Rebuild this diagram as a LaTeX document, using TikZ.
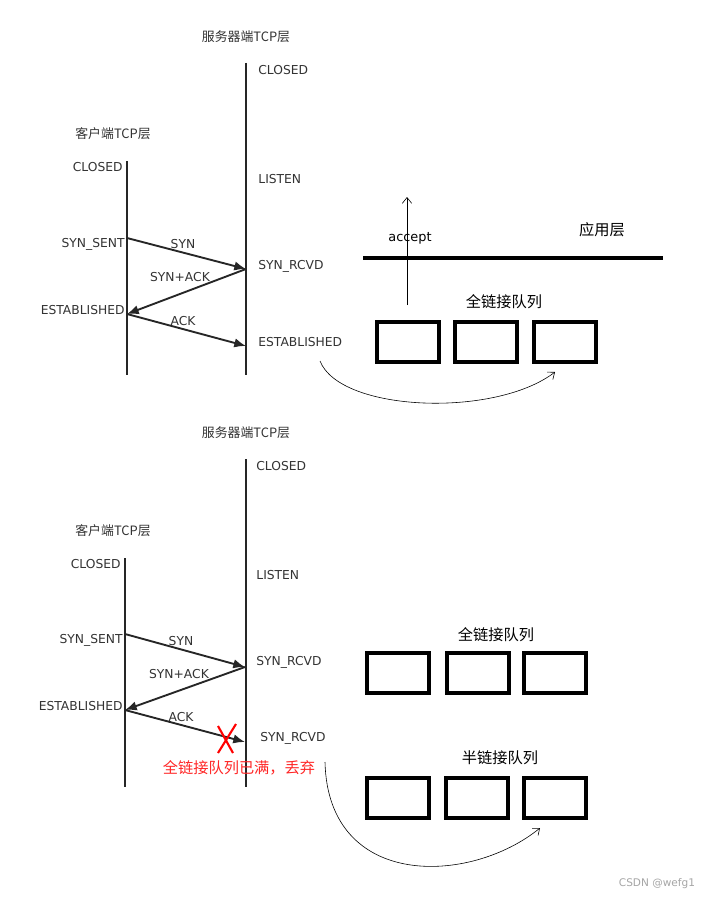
\documentclass[tikz,border=0pt]{standalone}
\usepackage{fontspec}
\setmainfont{DejaVu Sans}
\newfontfamily\cjk{Noto Sans CJK SC}
\usetikzlibrary{arrows.meta}

\tikzset{
  lifeline/.style={line width=2.1pt, draw=black!85},
  msg/.style={line width=1.6pt, draw=black!85, -{Latex[length=10pt,width=8pt]}},
  thinarrow/.style={line width=0.5pt, -{Straight Barb[length=5pt,width=8pt]}},
  state/.style={font=\fontsize{10.5}{12}\selectfont, text=black!80, inner sep=1pt},
  msglabel/.style={font=\fontsize{10.5}{12}\selectfont, text=black!80, inner sep=1pt},
  layer/.style={font=\cjk\fontsize{11}{13}\selectfont, text=black!80, inner sep=1pt},
  qtitle/.style={font=\cjk\fontsize{13}{15}\selectfont, inner sep=1pt},
  qbox/.style={draw, line width=3.2pt, minimum width=1.86cm, minimum height=1.2cm, inner sep=0pt},
}

\begin{document}
\begin{tikzpicture}[x=0.03cm, y=-0.03cm]
  \useasboundingbox[fill=white] (0,0) rectangle (708,897);

  % ---- upper picture: accept takes from the full queue ----
  \node[layer] (srvA) at (246,37) {服务器端TCP层};
  \node[layer] (cliA) at (113,134) {客户端TCP层};

  \coordinate (srvAtop) at (246,63);
  \coordinate (srvAbot) at (246,375);
  \coordinate (cliAtop) at (127,161);
  \coordinate (cliAbot) at (127,375);
  \draw[lifeline] (srvAtop) -- (srvAbot);
  \draw[lifeline] (cliAtop) -- (cliAbot);

  \node[state, anchor=west] (sClosedA) at (257,70) {CLOSED};
  \node[state, anchor=west] (sListenA) at (257,179) {LISTEN};
  \node[state, anchor=west] (sRcvdA) at (257,266) {SYN\_RCVD};
  \node[state, anchor=west] (sEstA) at (257,342) {ESTABLISHED};
  \node[state, anchor=east] (cClosedA) at (124,167) {CLOSED};
  \node[state, anchor=east] (cSentA) at (126,244) {SYN\_SENT};
  \node[state, anchor=east] (cEstA) at (126,310) {ESTABLISHED};

  \coordinate (synA0) at (127,238);
  \coordinate (synA1) at (246,269);
  \coordinate (ackA0) at (127,314);
  \coordinate (ackA1) at (246,346);
  \draw[msg] (synA0) -- (synA1);
  \draw[msg] (synA1) -- (ackA0);
  \draw[msg] (ackA0) -- (ackA1);
  \node[msglabel] (synLblA) at (183,244) {SYN};
  \node[msglabel] (synackLblA) at (180,277) {SYN+ACK};
  \node[msglabel] (ackLblA) at (183,321) {ACK};

  % application layer
  \coordinate (appL) at (363,258);
  \coordinate (appR) at (663,258);
  \draw[line width=3.4pt] (appL) -- (appR);
  \node[qtitle] (app) at (602,230) {应用层};
  \node[font=\fontsize{11}{13}\selectfont, inner sep=1pt] (accept) at (410,238) {accept};
  \coordinate (accFrom) at (407,305);
  \coordinate (accTo) at (407,197);
  \draw[thinarrow] (accFrom) -- (accTo);

  % full connection queue
  \node[qtitle] (fullA) at (504,302) {全链接队列};
  \node[qbox] (fa1) at (408,342) {};
  \node[qbox] (fa2) at (486,342) {};
  \node[qbox] (fa3) at (565,342) {};
  \coordinate (curveA0) at (320,361);
  \coordinate (curveA1) at (555,372);
  \draw[thinarrow] (curveA0) .. controls (340,412) and (495,418) .. (curveA1);

  % ---- lower picture: full queue is full, ACK dropped ----
  \node[layer] (srvB) at (246,433) {服务器端TCP层};
  \node[layer] (cliB) at (113,531) {客户端TCP层};

  \coordinate (srvBtop) at (246,459);
  \coordinate (srvBbot) at (246,787);
  \coordinate (cliBtop) at (125,558);
  \coordinate (cliBbot) at (125,787);
  \draw[lifeline] (srvBtop) -- (srvBbot);
  \draw[lifeline] (cliBtop) -- (cliBbot);

  \node[state, anchor=west] (sClosedB) at (255,466) {CLOSED};
  \node[state, anchor=west] (sListenB) at (255,575) {LISTEN};
  \node[state, anchor=west] (sRcvdB) at (255,662) {SYN\_RCVD};
  \node[state, anchor=west] (sRcvdB2) at (259,738) {SYN\_RCVD};
  \node[state, anchor=east] (cClosedB) at (122,564) {CLOSED};
  \node[state, anchor=east] (cSentB) at (124,640) {SYN\_SENT};
  \node[state, anchor=east] (cEstB) at (124,706) {ESTABLISHED};

  \coordinate (synB0) at (125,634);
  \coordinate (synB1) at (245,667);
  \coordinate (ackB0) at (125,710);
  \coordinate (ackB1) at (245,742);
  \draw[msg] (synB0) -- (synB1);
  \draw[msg] (synB1) -- (ackB0);
  \draw[msg] (ackB0) -- (ackB1);
  \node[msglabel] (synLblB) at (181,641) {SYN};
  \node[msglabel] (synackLblB) at (179,674) {SYN+ACK};
  \node[msglabel] (ackLblB) at (181,717) {ACK};

  % drop mark
  \coordinate (xmark) at (226,739);
  \draw[red, line width=1.8pt] ([shift={(-8,14)}]xmark) -- ([shift={(10,-15)}]xmark);
  \draw[red, line width=1.8pt] ([shift={(-8,-13)}]xmark) -- ([shift={(7,14)}]xmark);
  \node[qtitle, text=red!85!white] (dropTxt) at (239,768) {全链接队列已满，丢弃};

  % queues
  \node[qtitle] (fullB) at (496,635) {全链接队列};
  \node[qbox] (fb1) at (398,673) {};
  \node[qbox] (fb2) at (478,673) {};
  \node[qbox] (fb3) at (555,673) {};
  \node[qtitle] (halfB) at (500,758) {半链接队列};
  \node[qbox] (hb1) at (398,798) {};
  \node[qbox] (hb2) at (477,798) {};
  \node[qbox] (hb3) at (555,798) {};
  \coordinate (curveB0) at (325,762);
  \coordinate (curveB1) at (540,828);
  \draw[thinarrow] (curveB0) .. controls (328,890) and (470,885) .. (curveB1);

  \node[text=gray!70, font=\fontsize{9}{11}\selectfont, inner sep=0pt] (mark) at (657,884) {CSDN @wefg1};
\end{tikzpicture}
\end{document}
